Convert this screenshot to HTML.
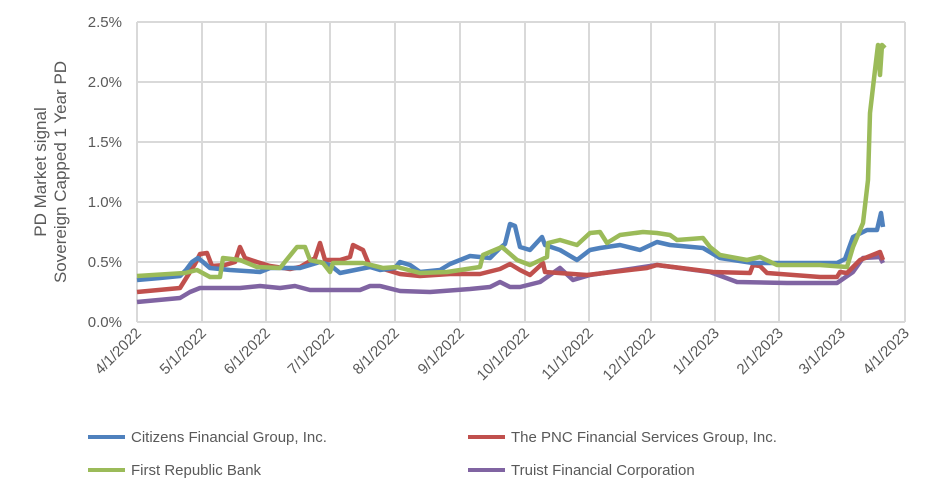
<!DOCTYPE html><html><head><style>body{margin:0;background:#fff}text{font-family:"Liberation Sans",Arial,sans-serif;fill:#595959}</style></head><body>
<svg width="938" height="498" viewBox="0 0 938 498" xmlns="http://www.w3.org/2000/svg">
<g stroke="#d9d9d9" stroke-width="2">
<line x1="137" y1="22" x2="905" y2="22"/><line x1="137" y1="82" x2="905" y2="82"/><line x1="137" y1="142" x2="905" y2="142"/><line x1="137" y1="202" x2="905" y2="202"/><line x1="137" y1="262" x2="905" y2="262"/><line x1="137" y1="322" x2="905" y2="322"/>
<line x1="137" y1="22" x2="137" y2="322"/><line x1="202" y1="22" x2="202" y2="322"/><line x1="266" y1="22" x2="266" y2="322"/><line x1="330" y1="22" x2="330" y2="322"/><line x1="395" y1="22" x2="395" y2="322"/><line x1="460" y1="22" x2="460" y2="322"/><line x1="525" y1="22" x2="525" y2="322"/><line x1="589" y1="22" x2="589" y2="322"/><line x1="651" y1="22" x2="651" y2="322"/><line x1="715" y1="22" x2="715" y2="322"/><line x1="779" y1="22" x2="779" y2="322"/><line x1="841" y1="22" x2="841" y2="322"/><line x1="905" y1="22" x2="905" y2="322"/>
</g>
<g font-size="15" text-anchor="end">
<text x="122" y="27">2.5%</text><text x="122" y="87">2.0%</text><text x="122" y="147">1.5%</text><text x="122" y="207">1.0%</text><text x="122" y="267">0.5%</text><text x="122" y="327">0.0%</text>
</g>
<g font-size="17" text-anchor="middle">
<text transform="translate(46,172) rotate(-90)">PD Market signal</text>
<text transform="translate(66,172) rotate(-90)">Sovereign Capped 1 Year PD</text>
</g>
<g font-size="15" text-anchor="end">
<text transform="translate(142,334) rotate(-45)">4/1/2022</text>
<text transform="translate(207,334) rotate(-45)">5/1/2022</text>
<text transform="translate(271,334) rotate(-45)">6/1/2022</text>
<text transform="translate(335,334) rotate(-45)">7/1/2022</text>
<text transform="translate(400,334) rotate(-45)">8/1/2022</text>
<text transform="translate(465,334) rotate(-45)">9/1/2022</text>
<text transform="translate(530,334) rotate(-45)">10/1/2022</text>
<text transform="translate(594,334) rotate(-45)">11/1/2022</text>
<text transform="translate(656,334) rotate(-45)">12/1/2022</text>
<text transform="translate(720,334) rotate(-45)">1/1/2023</text>
<text transform="translate(784,334) rotate(-45)">2/1/2023</text>
<text transform="translate(846,334) rotate(-45)">3/1/2023</text>
<text transform="translate(910,334) rotate(-45)">4/1/2023</text>
</g>
<g fill="none" stroke-width="4.5" stroke-linejoin="round">
<polyline stroke="#8064a2" points="137,302 180,298 190,292 200,288 240,288 260,286 280,288 295,286 310,290 360,290 370,286 380,286 400,291 430,292 470,289 490,287 500,282 510,287 520,287 540,282 560,268 573,280 590,275 657,265 710,272 737,282 787,283 837,283 853,272 863,258 880,257 883,263"/>
<polyline stroke="#c0504d" points="137,292 180,288 185,280 195,264 200,254 207,253 212,266 225,265 235,262 240,247 245,258 257,262 270,266 290,269 300,267 315,258 320,243 325,260 340,260 350,257 353,245 363,250 370,267 380,268 400,274 420,276 450,274 480,274 500,269 510,264 520,270 530,275 543,263 545,272 587,275 647,268 657,265 713,272 750,273 753,265 760,266 767,273 820,277 837,277 840,272 847,273 860,260 880,252 883,260"/>
<polyline stroke="#4f81bd" points="137,280 160,278 180,276 186,270 192,262 198,258 203,262 210,268 230,270 260,272 270,268 300,268 320,262 330,265 340,273 370,267 380,270 395,268 400,262 410,265 420,272 440,270 450,264 470,256 490,258 500,248 505,244 510,224 515,226 520,247 530,250 542,237 545,245 560,250 577,260 590,250 600,248 620,245 640,250 657,242 670,245 703,248 720,258 753,263 837,263 845,259 853,237 867,230 877,230 881,213 883,227"/>
<polyline stroke="#9bbb59" points="137,276 185,273 197,270 210,277 220,277 223,258 240,260 257,267 280,268 297,247 305,247 310,260 323,263 330,272 333,263 363,263 383,268 397,267 420,273 447,272 480,267 483,255 502,247 517,260 530,265 547,257 548,243 560,240 577,245 590,233 600,232 607,243 620,235 643,232 657,233 670,235 677,240 703,238 710,247 720,255 747,260 760,257 777,265 820,265 847,267 853,247 863,223 868,180 870,113 875,70 878,45 880,75 882,45 885,48"/>
</g>
<g stroke-width="4">
<line x1="88" y1="437" x2="125" y2="437" stroke="#4f81bd"/>
<line x1="468" y1="437" x2="505" y2="437" stroke="#c0504d"/>
<line x1="88" y1="470" x2="125" y2="470" stroke="#9bbb59"/>
<line x1="468" y1="470" x2="505" y2="470" stroke="#8064a2"/>
</g>
<g font-size="15">
<text x="131" y="442">Citizens Financial Group, Inc.</text>
<text x="511" y="442">The PNC Financial Services Group, Inc.</text>
<text x="131" y="475">First Republic Bank</text>
<text x="511" y="475">Truist Financial Corporation</text>
</g>
</svg>
</body></html>
